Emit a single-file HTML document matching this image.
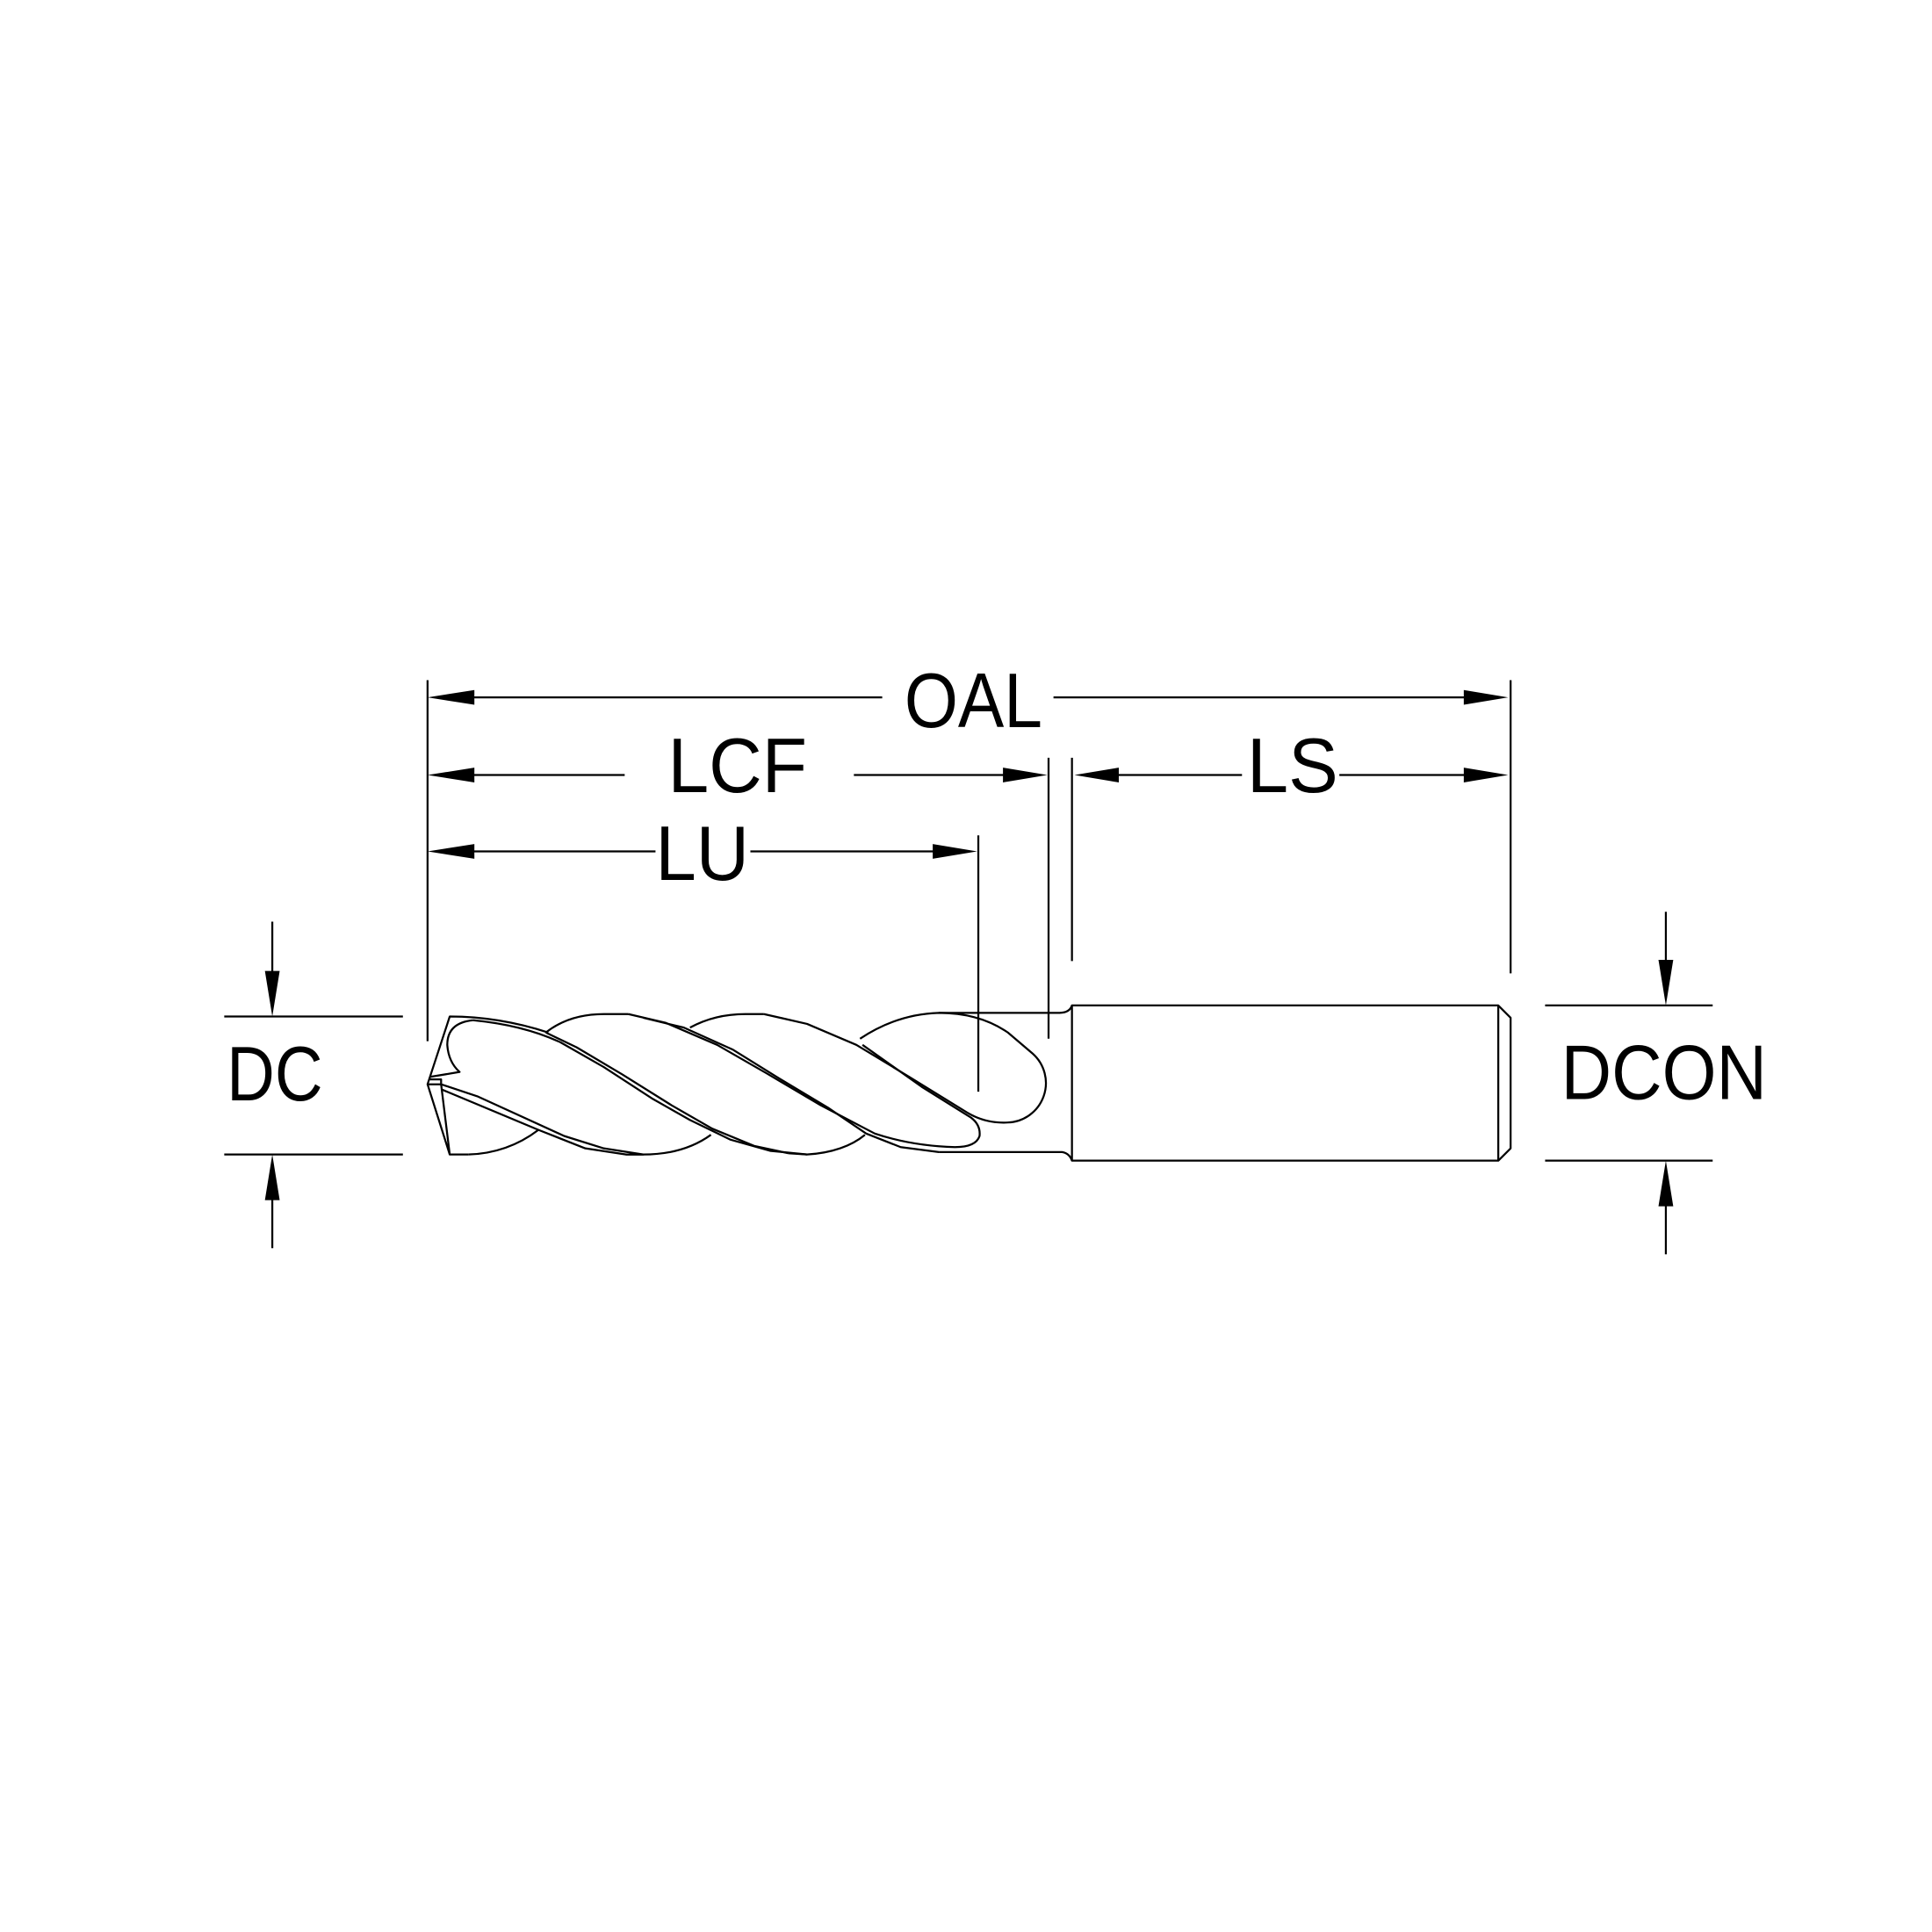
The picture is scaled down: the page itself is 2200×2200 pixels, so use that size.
<!DOCTYPE html>
<html><head><meta charset="utf-8"><style>html,body{margin:0;padding:0;background:#fff}svg{display:block}</style></head>
<body>
<svg width="2200" height="2200" viewBox="0 0 1568 1568" xmlns="http://www.w3.org/2000/svg">
<g fill="none" stroke="#000" stroke-width="1.6" stroke-linejoin="round">
<!-- extension lines -->
<line x1="347" y1="552" x2="347" y2="845"/>
<line x1="1226" y1="552" x2="1226" y2="790"/>
<line x1="851" y1="615" x2="851" y2="843"/>
<line x1="870" y1="615" x2="870" y2="780"/>
<line x1="794" y1="678" x2="794" y2="886"/>
<!-- OAL -->
<line x1="380" y1="566" x2="716" y2="566"/>
<line x1="855" y1="566" x2="1192" y2="566"/>
<!-- LCF -->
<line x1="380" y1="629" x2="507" y2="629"/>
<line x1="693" y1="629" x2="818" y2="629"/>
<!-- LS -->
<line x1="905" y1="629" x2="1008" y2="629"/>
<line x1="1087" y1="629" x2="1192" y2="629"/>
<!-- LU -->
<line x1="380" y1="691" x2="532" y2="691"/>
<line x1="609" y1="691" x2="760" y2="691"/>
<!-- DC -->
<line x1="182" y1="825" x2="327" y2="825"/>
<line x1="182" y1="937" x2="327" y2="937"/>
<line x1="221" y1="748" x2="221" y2="790"/>
<line x1="221" y1="972" x2="221" y2="1013"/>
<!-- DCON -->
<line x1="1254" y1="816" x2="1390" y2="816"/>
<line x1="1254" y1="942" x2="1390" y2="942"/>
<line x1="1352" y1="740" x2="1352" y2="780"/>
<line x1="1352" y1="978" x2="1352" y2="1018"/>

<!-- shank -->
<path d="M870,816 L1216,816 L1226,826 L1226,932 L1216,942 L870,942 Z"/>
<line x1="1216" y1="816" x2="1216" y2="942"/>
<path d="M762,822 L860,822 Q868,822 870,816"/>
<path d="M762,935 L862,935 Q868,936 870,942"/>
<!-- tip outline -->
<path d="M445,838 Q405,825 365,825 L347,880 L365,937 L380,937"/>
<path d="M384,828 Q363,830 363,848 Q364,862 373,870 L349,874"/>
<path d="M347,880 L358,880 L365,937"/>
<path d="M349,876 L358,876 L358,880"/>
<!-- helix bands -->
<path d="M384,828 Q425,832 455,846 L490,866 L530,892 L560,909 L593,925 L625,934 L655,937"/>
<path d="M443,838 L468,850 L505,872 L545,897 L578,916 L612,930 L640,936"/>
<path d="M510,823 L540,830 L582,848 L622,871 L666,897 L710,920 Q740,930 775,931 Q792,931 795,922 Q796,913 788,907 L748,882 L700,848"/>
<path d="M522,826 L555,834 L595,852 L632,875 L672,899 L703,920 L731,931 L762,935"/>
<path d="M620,823 L655,831 L695,848 L738,874 L785,903 Q800,912 818,911 A32,32 0 0 0 838,855 L818,838 Q795,822 762,822 Q728,823 698,843"/>
<path d="M358,880 L388,890 L458,922 L490,932 L522,937 L508,937 L475,932 L437,917 L358,884"/>
<!-- gullets -->
<path d="M443,838 Q462,823 490,823 L510,823"/>
<path d="M560,834 Q580,823 605,823 L620,823"/>
<path d="M380,937 Q412,936 437,917"/>
<path d="M508,937 L522,937 Q555,937 577,921"/>
<path d="M640,936 L655,937 Q685,935 702,921"/>
</g>
<g fill="#000" stroke="none">
<polygon points="347,566 385,560 385,572"/>
<polygon points="1224,566 1188,560 1188,572"/>
<polygon points="347,629 385,623 385,635"/>
<polygon points="850,629 814,623 814,635"/>
<polygon points="872,629 908,623 908,635"/>
<polygon points="1224,629 1188,623 1188,635"/>
<polygon points="347,691 385,685 385,697"/>
<polygon points="793,691 757,685 757,697"/>
<polygon points="221,825 215,788 227,788"/>
<polygon points="221,937 215,974 227,974"/>
<polygon points="1352,816 1346,779 1358,779"/>
<polygon points="1352,942 1346,979 1358,979"/>
</g>
<g font-family="Liberation Sans, sans-serif" font-size="63" fill="#000">
<text x="734" y="590" textLength="112" lengthAdjust="spacingAndGlyphs">OAL</text>
<text x="542" y="643" textLength="113" lengthAdjust="spacingAndGlyphs">LCF</text>
<text x="1012" y="643" textLength="74" lengthAdjust="spacingAndGlyphs">LS</text>
<text x="532" y="714" textLength="76" lengthAdjust="spacingAndGlyphs">LU</text>
<text x="184" y="893" textLength="78" lengthAdjust="spacingAndGlyphs">DC</text>
<text x="1267" y="892" textLength="167" lengthAdjust="spacingAndGlyphs">DCON</text>
</g>
</svg>
</body></html>
